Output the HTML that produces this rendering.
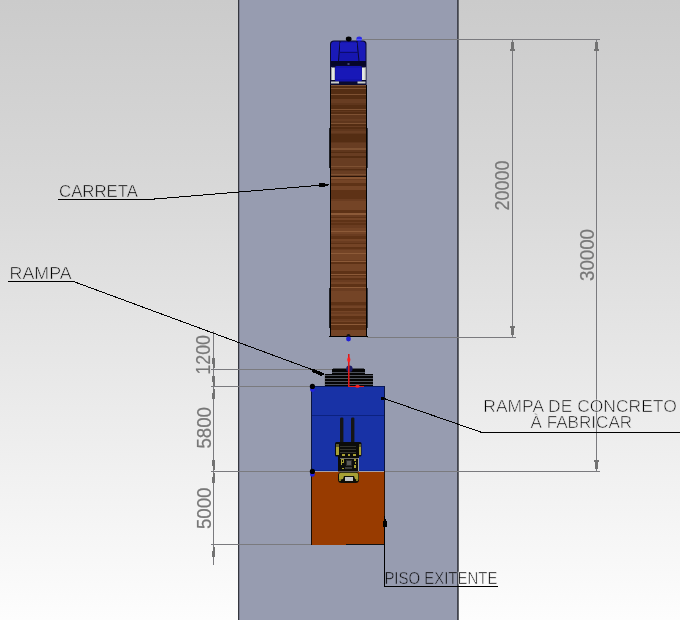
<!DOCTYPE html>
<html><head><meta charset="utf-8">
<style>
html,body{margin:0;padding:0;}
body{width:680px;height:620px;overflow:hidden;position:relative;
background:linear-gradient(to bottom,#cbcbcb 0%,#d8d8d8 30%,#e8e8e8 60%,#fdfdfd 100%);
font-family:"Liberation Sans", sans-serif;}
svg{position:absolute;left:0;top:0;will-change:transform;}
</style></head><body>
<svg width="680" height="620" viewBox="0 0 680 620" shape-rendering="crispEdges">
<!-- road -->
<rect x="238" y="0" width="220" height="620" fill="#979cb0"/>
<rect x="238" y="0" width="1" height="620" fill="#34363e"/>
<rect x="239" y="0" width="1" height="620" fill="#7d8092"/>
<rect x="457" y="0" width="1" height="620" fill="#42444f"/>
<rect x="458" y="0" width="1" height="620" fill="#65676c"/>

<!-- extension lines right -->
<g fill="#7a7a7e">
<rect x="362" y="39" width="238" height="1"/>
<rect x="367" y="337" width="149" height="1"/>
<rect x="385" y="471" width="215" height="1"/>
<rect x="512" y="40" width="1" height="297"/>
<rect x="596" y="40" width="1" height="431"/>
<!-- extension lines left -->
<rect x="211" y="369" width="122" height="1"/>
<rect x="211" y="386" width="100" height="1"/>
<rect x="211" y="471" width="100" height="1"/>
<rect x="211" y="544" width="100" height="1"/>
<rect x="213" y="331" width="1" height="234"/>
</g>
<!-- arrows -->
<g fill="#727272">
<rect x="511" y="42" width="3" height="7"/><rect x="510" y="49" width="5" height="2"/><rect x="511" y="328" width="3" height="7"/><rect x="510" y="326" width="5" height="2"/><rect x="595" y="42" width="3" height="7"/><rect x="594" y="49" width="5" height="2"/><rect x="595" y="462" width="3" height="7"/><rect x="594" y="460" width="5" height="2"/>
<rect x="212.5" y="363" width="2" height="5"/><rect x="211.5" y="358" width="3.5" height="6"/><rect x="212.5" y="380.5" width="2" height="5"/><rect x="211.5" y="375.5" width="3.5" height="6"/><rect x="212.5" y="388.5" width="2" height="5"/><rect x="211.5" y="392.5" width="3.5" height="6"/>
<rect x="212.5" y="465" width="2" height="5"/><rect x="211.5" y="460" width="3.5" height="6"/><rect x="212.5" y="473" width="2" height="5"/><rect x="211.5" y="477" width="3.5" height="6"/><rect x="212.5" y="546.5" width="2" height="5"/><rect x="211.5" y="550.5" width="3.5" height="6"/>
</g>
<!-- trailer -->
<rect x="330" y="85" width="37" height="252" fill="#000"/>
<rect x="329" y="336" width="39" height="1" fill="#000"/>
<rect x="331" y="85" width="35" height="91" fill="rgb(104, 61, 34)"/>
<rect x="331" y="85" width="35" height="1" fill="rgb(126, 81, 50)"/>
<rect x="331" y="86" width="35" height="1" fill="rgb(84, 45, 19)"/>
<rect x="331" y="87" width="35" height="1" fill="rgb(84, 45, 19)"/>
<rect x="331" y="88" width="35" height="1" fill="rgb(126, 81, 50)"/>
<rect x="331" y="89" width="35" height="2" fill="rgb(84, 45, 19)"/>
<rect x="331" y="91" width="35" height="3" fill="rgb(84, 45, 19)"/>
<rect x="331" y="94" width="35" height="1" fill="rgb(126, 81, 50)"/>
<rect x="331" y="95" width="35" height="3" fill="rgb(84, 45, 19)"/>
<rect x="331" y="98" width="35" height="1" fill="rgb(84, 45, 19)"/>
<rect x="331" y="103" width="35" height="2" fill="rgb(95, 54, 28)"/>
<rect x="331" y="105" width="35" height="2" fill="rgb(84, 45, 19)"/>
<rect x="331" y="107" width="35" height="2" fill="rgb(84, 45, 19)"/>
<rect x="331" y="109" width="35" height="1" fill="rgb(126, 81, 50)"/>
<rect x="331" y="110" width="35" height="1" fill="rgb(84, 45, 19)"/>
<rect x="331" y="111" width="35" height="1" fill="rgb(95, 54, 28)"/>
<rect x="331" y="112" width="35" height="2" fill="rgb(84, 45, 19)"/>
<rect x="331" y="114" width="35" height="1" fill="rgb(126, 81, 50)"/>
<rect x="331" y="115" width="35" height="1" fill="rgb(95, 54, 28)"/>
<rect x="331" y="116" width="35" height="1" fill="rgb(95, 54, 28)"/>
<rect x="331" y="117" width="35" height="2" fill="rgb(95, 54, 28)"/>
<rect x="331" y="121" width="35" height="2" fill="rgb(95, 54, 28)"/>
<rect x="331" y="123" width="35" height="1" fill="rgb(126, 81, 50)"/>
<rect x="331" y="124" width="35" height="2" fill="rgb(84, 45, 19)"/>
<rect x="331" y="127" width="35" height="2" fill="rgb(84, 45, 19)"/>
<rect x="331" y="129" width="35" height="2" fill="rgb(95, 54, 28)"/>
<rect x="331" y="133" width="35" height="1" fill="rgb(95, 54, 28)"/>
<rect x="331" y="134" width="35" height="3" fill="rgb(84, 45, 19)"/>
<rect x="331" y="137" width="35" height="2" fill="rgb(84, 45, 19)"/>
<rect x="331" y="139" width="35" height="3" fill="rgb(84, 45, 19)"/>
<rect x="331" y="142" width="35" height="1" fill="rgb(95, 54, 28)"/>
<rect x="331" y="148" width="35" height="1" fill="rgb(126, 81, 50)"/>
<rect x="331" y="149" width="35" height="1" fill="rgb(126, 81, 50)"/>
<rect x="331" y="150" width="35" height="2" fill="rgb(95, 54, 28)"/>
<rect x="331" y="152" width="35" height="1" fill="rgb(84, 45, 19)"/>
<rect x="331" y="156" width="35" height="2" fill="rgb(84, 45, 19)"/>
<rect x="331" y="166" width="35" height="1" fill="rgb(126, 81, 50)"/>
<rect x="331" y="169" width="35" height="1" fill="rgb(84, 45, 19)"/>
<rect x="331" y="170" width="35" height="1" fill="rgb(95, 54, 28)"/>
<rect x="331" y="174" width="35" height="1" fill="rgb(126, 81, 50)"/>
<rect x="331" y="176" width="35" height="160" fill="rgb(116, 68, 38)"/>
<rect x="331" y="176" width="35" height="3" fill="rgb(94, 50, 22)"/>
<rect x="331" y="179" width="35" height="1" fill="rgb(106, 60, 32)"/>
<rect x="331" y="183" width="35" height="3" fill="rgb(94, 50, 22)"/>
<rect x="331" y="190" width="35" height="2" fill="rgb(94, 50, 22)"/>
<rect x="331" y="192" width="35" height="2" fill="rgb(94, 50, 22)"/>
<rect x="331" y="194" width="35" height="2" fill="rgb(94, 50, 22)"/>
<rect x="331" y="196" width="35" height="1" fill="rgb(94, 50, 22)"/>
<rect x="331" y="197" width="35" height="2" fill="rgb(94, 50, 22)"/>
<rect x="331" y="199" width="35" height="2" fill="rgb(106, 60, 32)"/>
<rect x="331" y="210" width="35" height="3" fill="rgb(94, 50, 22)"/>
<rect x="331" y="213" width="35" height="1" fill="rgb(140, 90, 56)"/>
<rect x="331" y="214" width="35" height="1" fill="rgb(140, 90, 56)"/>
<rect x="331" y="215" width="35" height="2" fill="rgb(106, 60, 32)"/>
<rect x="331" y="217" width="35" height="1" fill="rgb(94, 50, 22)"/>
<rect x="331" y="220" width="35" height="2" fill="rgb(94, 50, 22)"/>
<rect x="331" y="222" width="35" height="1" fill="rgb(106, 60, 32)"/>
<rect x="331" y="223" width="35" height="2" fill="rgb(94, 50, 22)"/>
<rect x="331" y="225" width="35" height="2" fill="rgb(106, 60, 32)"/>
<rect x="331" y="227" width="35" height="1" fill="rgb(106, 60, 32)"/>
<rect x="331" y="231" width="35" height="1" fill="rgb(140, 90, 56)"/>
<rect x="331" y="234" width="35" height="2" fill="rgb(106, 60, 32)"/>
<rect x="331" y="236" width="35" height="3" fill="rgb(94, 50, 22)"/>
<rect x="331" y="241" width="35" height="2" fill="rgb(106, 60, 32)"/>
<rect x="331" y="243" width="35" height="1" fill="rgb(94, 50, 22)"/>
<rect x="331" y="247" width="35" height="2" fill="rgb(94, 50, 22)"/>
<rect x="331" y="249" width="35" height="1" fill="rgb(106, 60, 32)"/>
<rect x="331" y="253" width="35" height="1" fill="rgb(140, 90, 56)"/>
<rect x="331" y="260" width="35" height="1" fill="rgb(106, 60, 32)"/>
<rect x="331" y="261" width="35" height="1" fill="rgb(140, 90, 56)"/>
<rect x="331" y="262" width="35" height="2" fill="rgb(94, 50, 22)"/>
<rect x="331" y="271" width="35" height="3" fill="rgb(94, 50, 22)"/>
<rect x="331" y="274" width="35" height="1" fill="rgb(140, 90, 56)"/>
<rect x="331" y="275" width="35" height="1" fill="rgb(94, 50, 22)"/>
<rect x="331" y="278" width="35" height="2" fill="rgb(94, 50, 22)"/>
<rect x="331" y="280" width="35" height="2" fill="rgb(106, 60, 32)"/>
<rect x="331" y="284" width="35" height="1" fill="rgb(94, 50, 22)"/>
<rect x="331" y="285" width="35" height="2" fill="rgb(94, 50, 22)"/>
<rect x="331" y="287" width="35" height="1" fill="rgb(140, 90, 56)"/>
<rect x="331" y="288" width="35" height="1" fill="rgb(106, 60, 32)"/>
<rect x="331" y="289" width="35" height="2" fill="rgb(106, 60, 32)"/>
<rect x="331" y="302" width="35" height="3" fill="rgb(94, 50, 22)"/>
<rect x="331" y="305" width="35" height="1" fill="rgb(106, 60, 32)"/>
<rect x="331" y="308" width="35" height="3" fill="rgb(94, 50, 22)"/>
<rect x="331" y="312" width="35" height="2" fill="rgb(106, 60, 32)"/>
<rect x="331" y="316" width="35" height="2" fill="rgb(94, 50, 22)"/>
<rect x="331" y="318" width="35" height="1" fill="rgb(94, 50, 22)"/>
<rect x="331" y="319" width="35" height="1" fill="rgb(106, 60, 32)"/>
<rect x="331" y="320" width="35" height="1" fill="rgb(106, 60, 32)"/>
<rect x="331" y="322" width="35" height="2" fill="rgb(94, 50, 22)"/>
<rect x="331" y="324" width="35" height="1" fill="rgb(140, 90, 56)"/>
<rect x="331" y="325" width="35" height="2" fill="rgb(94, 50, 22)"/>
<rect x="331" y="327" width="35" height="3" fill="rgb(94, 50, 22)"/>
<rect x="331" y="176" width="35" height="1" fill="#2a1408"/>
<rect x="331" y="177" width="35" height="2" fill="rgb(134,84,50)"/>
<rect x="329" y="128" width="1" height="40" fill="#202228"/>
<rect x="367" y="128" width="1" height="40" fill="#3a3c44"/>
<rect x="329" y="288" width="1" height="40" fill="#202228"/>
<rect x="367" y="288" width="1" height="40" fill="#3a3c44"/>

<!-- cab -->
<g shape-rendering="geometricPrecision">
<path d="M330 44 Q330 40.5 334 40.5 L363 40.5 Q366.5 40.5 366.5 44 L366.5 85 L330 85 Z" fill="#0a0a30"/>
<path d="M331 45 Q331 41.5 334 41.5 L339.5 41.5 L338 61 L331 61 Z" fill="#1a1ab8"/>
<path d="M365.5 45 Q365.5 41.5 362.5 41.5 L357.5 41.5 L359.5 61 L365.5 61 Z" fill="#1a1ab8"/>
<path d="M340.5 41.5 L356.5 41.5 L358.5 61 L339 61 Z" fill="#1616b0"/>
<rect x="340" y="43" width="17" height="8" fill="#1c1cbc"/>
<rect x="339.5" y="52" width="18.5" height="1" fill="#0c0c70"/>
<rect x="331" y="61" width="35" height="4.5" fill="#060628"/>
<rect x="347.5" y="63.5" width="2" height="1" fill="#8080c0"/>
<rect x="335" y="66" width="27" height="15.5" rx="1.5" fill="#1414ac"/>
<rect x="336" y="68" width="25" height="11" fill="#1818b8"/>
<rect x="331" y="67.5" width="3.8" height="12.5" fill="#e4e8e4"/>
<rect x="331" y="67.5" width="1" height="12.5" fill="#9a9e9a"/>
<rect x="362" y="67.5" width="3.8" height="12.5" fill="#e4e8e4"/>
<rect x="364.8" y="67.5" width="1" height="12.5" fill="#9a9e9a"/>
<rect x="331" y="81.5" width="8" height="2" fill="#c8ccc8"/>
<rect x="357.5" y="81.5" width="8" height="2" fill="#c8ccc8"/>
<ellipse cx="348.7" cy="39" rx="2.9" ry="2.4" fill="#000"/>
<ellipse cx="359.2" cy="39" rx="2.8" ry="2.4" fill="#2a2ae6"/><rect x="357" y="39" width="5" height="1" fill="#5050ff"/>
</g>
<!-- trailer end dots -->
<g shape-rendering="geometricPrecision">
<circle cx="348.5" cy="336" r="2" fill="#111"/>
<circle cx="348.5" cy="339" r="2.4" fill="#1f1fd8"/>
</g>

<!-- ramp -->
<rect x="333" y="368" width="31" height="1" fill="#50545e"/>
<rect x="332" y="369" width="33" height="5" fill="#050505"/>
<rect x="332" y="372" width="33" height="1" fill="#4a4e58"/>
<rect x="324" y="374" width="49" height="12" fill="#050505"/>
<g fill="#4e525c">
<rect x="324" y="375" width="49" height="1"/>
<rect x="324" y="378" width="49" height="1"/>
<rect x="324" y="381" width="49" height="1"/>
<rect x="324" y="384" width="49" height="1"/>
</g>
<rect x="324" y="374" width="1" height="12" fill="#8a8e9a"/>
<!-- blue block -->
<rect x="311" y="386" width="74" height="85" fill="#1832a6"/>
<rect x="311" y="386" width="74" height="1" fill="#081a60"/>
<rect x="311" y="386" width="1" height="85" fill="#0a1440"/>
<rect x="384" y="386" width="1" height="85" fill="#0a1440"/>
<rect x="312" y="415" width="72" height="1" fill="#0c2280"/>
<rect x="312" y="470" width="72" height="1" fill="#0c2a90"/>
<!-- orange block -->
<rect x="311" y="471" width="74" height="74" fill="#983b00"/>
<rect x="312" y="471" width="72" height="1" fill="#a8a0a8"/>
<rect x="311" y="471" width="1" height="74" fill="#1a0a00"/>
<rect x="384" y="471" width="1" height="74" fill="#2a1000"/>
<rect x="346" y="544" width="39" height="1" fill="#111"/>
<!-- red axis -->
<g shape-rendering="geometricPrecision">
<circle cx="349.4" cy="368.7" r="3.2" fill="#1c1c66"/>
</g>
<rect x="348" y="354" width="1" height="33" fill="#e01818"/>
<rect x="349" y="354" width="1" height="33" fill="#e01818" opacity="0.55"/>
<rect x="348" y="386" width="16" height="1" fill="#e01818"/>
<g shape-rendering="geometricPrecision">
<ellipse cx="348.8" cy="359.7" rx="1.6" ry="2.4" fill="#ff2020"/>
<ellipse cx="357.5" cy="386.3" rx="2.2" ry="1.5" fill="#ff2020"/>
<circle cx="312.4" cy="389.6" r="2.4" fill="#2020e0"/>
<circle cx="312.4" cy="386.4" r="2.6" fill="#000"/>
<circle cx="312.4" cy="474.4" r="2.4" fill="#2020e0"/>
<circle cx="312.4" cy="471.4" r="2.6" fill="#000"/>
</g>

<!-- forklift -->
<g shape-rendering="geometricPrecision">
<rect x="340" y="417.5" width="3.4" height="26" rx="1.2" fill="#161616"/>
<rect x="351" y="417.5" width="3.4" height="26" rx="1.2" fill="#161616"/>
<rect x="335" y="442" width="26.5" height="14.5" rx="1.5" fill="#0c0c0a"/>
<rect x="338" y="455.5" width="21" height="16" fill="#0c0c0a"/>
<rect x="338" y="472" width="21" height="11" rx="3.5" fill="#0e0e08"/>
<path d="M339 474.5 Q339 472.8 341 472.8 L356 472.8 Q358.3 472.8 358.3 474.5 L358.3 480 L355 479 L354 476 L344 476 L343 479 L339 480 Z" fill="#a8a034"/>
<rect x="339" y="479" width="2" height="2" fill="#8a8428"/>
<rect x="356" y="479" width="2" height="2" fill="#8a8428"/>
</g>
<g fill="#a8a034">
<rect x="335.5" y="447" width="3" height="8"/>
<rect x="358.5" y="447" width="2.5" height="8"/>
<rect x="342" y="454" width="3" height="1.5"/><rect x="347.5" y="454" width="2" height="1.5"/><rect x="352.5" y="454" width="3" height="1.5"/>
<rect x="341" y="459" width="2.5" height="1"/><rect x="341" y="459" width="1" height="6"/><rect x="343" y="459" width="1" height="4"/><rect x="341" y="462" width="2.5" height="1"/>
<rect x="341.5" y="467.5" width="2" height="1"/>
<rect x="353.5" y="459" width="2" height="2"/><rect x="354.5" y="462" width="1.5" height="2"/><rect x="353.5" y="465" width="2.5" height="3"/>
</g>
<g fill="#5e5a2a">
<rect x="335.5" y="444" width="3" height="3"/>
<rect x="358.5" y="444" width="2.5" height="3"/>
</g>
<g fill="#34342c">
<rect x="340" y="446" width="16" height="1"/>
<rect x="340" y="449" width="16" height="1"/>
<rect x="340" y="452" width="16" height="1"/>
</g>
<rect x="340" y="457.5" width="17.5" height="1" fill="#707068"/>
<rect x="357.5" y="457.5" width="1" height="13.5" fill="#a0a098"/>
<rect x="345.5" y="459.5" width="6" height="6.5" fill="#2a2a2a"/>
<rect x="346.5" y="460.5" width="4" height="4.5" fill="#5a5a5a"/>
<rect x="345" y="467" width="7" height="1.5" fill="#3a3a3a"/>
<rect x="345" y="477" width="7.6" height="4" fill="#c4c4c4"/>
<!-- leader lines -->
<g stroke="#000" stroke-width="1" fill="none" shape-rendering="crispEdges">
<path d="M58 199.5 H148.5 L329 184.5"/>
<path d="M8 281.5 H73.5 L324 374"/>
<path d="M680 432.5 H482 L384 398.5"/>
<path d="M384.5 516 V586.5 H498"/>
</g>
<g fill="#000" shape-rendering="crispEdges">
<rect x="319" y="183" width="6" height="4"/>
<rect x="325" y="184" width="3" height="2"/>
<path d="M312 368.6 L321 371.8 L324.5 374.5 L321 375.8 L312 372 Z"/>
<rect x="381" y="397" width="3" height="3"/>
<rect x="384" y="516" width="1" height="4"/><rect x="384" y="519" width="2" height="3"/><rect x="383" y="521" width="3.5" height="6"/>
</g>
<!-- labels -->
<defs>
<clipPath id="cl"><rect x="0" y="0" width="458" height="620"/></clipPath>
<clipPath id="cr"><rect x="458" y="0" width="222" height="620"/></clipPath>
</defs>
<g font-family='"Liberation Sans", sans-serif' fill="#000" stroke-width="0.6" font-size="17.4">
<text x="59" y="196.6" textLength="79" lengthAdjust="spacingAndGlyphs" stroke="#d8d8d8">CARRETA</text>
<text x="9.6" y="279.3" textLength="62" lengthAdjust="spacingAndGlyphs" stroke="#e0e0e0">RAMPA</text>
<text x="483.3" y="411.7" textLength="193.5" lengthAdjust="spacingAndGlyphs" font-size="16.2" stroke="#ebebeb">RAMPA DE CONCRETO</text>
<text x="530.6" y="427.8" textLength="101.5" lengthAdjust="spacingAndGlyphs" font-size="16.2" stroke="#ececec">À FABRICAR</text>
<text clip-path="url(#cl)" x="384.4" y="584.3" textLength="113" lengthAdjust="spacingAndGlyphs" font-size="16.8" stroke="#979cb0">PISO EXITENTE</text>
<text clip-path="url(#cr)" x="384.4" y="584.3" textLength="113" lengthAdjust="spacingAndGlyphs" font-size="16.8" stroke="#f9f9f9">PISO EXITENTE</text>
</g>
<!-- dimension text -->
<g font-family='"Liberation Sans", sans-serif' fill="#787878" stroke="#787878" stroke-width="0.2" font-size="20">
<text transform="translate(210.3,374.5) rotate(-90)" textLength="39.5" lengthAdjust="spacingAndGlyphs">1200</text>
<text transform="translate(210.8,448.5) rotate(-90)" textLength="41.5" lengthAdjust="spacingAndGlyphs">5800</text>
<text transform="translate(210.5,529) rotate(-90)" textLength="41.5" lengthAdjust="spacingAndGlyphs">5000</text>
<text transform="translate(509.3,210.5) rotate(-90)" textLength="50" lengthAdjust="spacingAndGlyphs">20000</text>
<text transform="translate(593.8,281) rotate(-90)" textLength="52" lengthAdjust="spacingAndGlyphs">30000</text>
</g>
</svg>
</body></html>
